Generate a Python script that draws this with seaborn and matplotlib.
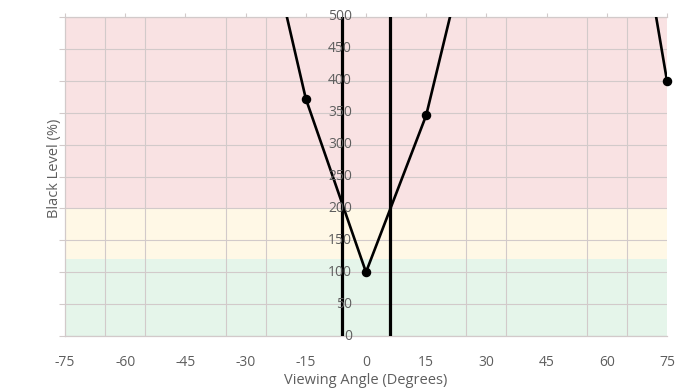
import numpy as np
import pandas as pd
import seaborn as sns
import matplotlib.pyplot as plt

# viewing angle measurements (points above 500 run off the top of the chart)
angles = [-75, -60, -45, -30, -15, 0, 15, 30, 45, 60, 75]
black_level = [1200, 1100, 1000, 780, 372, 100, 346, 736, 1000, 955, 400]

# the two vertical reference lines
ref_angles = [-6, 6]

# colour bands: (low, high, colour)
band_low = [0, 120, 200]
band_high = [120, 200, 500]
band_colors = ["#E5F5EA", "#FFF8E6", "#F9E2E3"]

x_ticks = [-75, -60, -45, -30, -15, 0, 15, 30, 45, 60, 75]
x_grid = [-75, -65, -55, -45, -35, -25, -15, 0, 15, 25, 35, 45, 55, 65, 75]
y_ticks = [0, 50, 100, 150, 200, 250, 300, 350, 400, 450, 500]

df = pd.DataFrame({"angle": angles, "level": black_level})

sns.set_theme(style="white")
plt.rcParams["font.family"] = ["Open Sans", "DejaVu Sans"]
plt.rcParams["axes.unicode_minus"] = False

grey_txt = "#5E5E5E"
grey_line = "#D2CACA"

fig = plt.figure(figsize=(6.92, 3.90), dpi=100)
ax = fig.add_axes([65 / 692, 54 / 390, 602 / 692, 319 / 390])

for lo, hi, col in zip(band_low, band_high, band_colors):
    ax.axhspan(lo, hi, color=col, zorder=0, lw=0)

sns.lineplot(data=df, x="angle", y="level", color="black", lw=1.9, ax=ax, zorder=4)
vis = df[df["level"] <= 500]
ax.scatter(vis["angle"], vis["level"], s=34, color="black", zorder=5, clip_on=False)

for ra in ref_angles:
    ax.axvline(ra, color="black", lw=2.3, zorder=3)

ax.set_xlim(-75, 75)
ax.set_ylim(0, 500)
ax.set_xticks(x_ticks)
ax.set_xticks(x_grid, minor=True)
ax.set_yticks(y_ticks)
ax.set_yticklabels([])

ax.grid(False)
ax.grid(True, which="minor", axis="x", color=grey_line, lw=0.8, zorder=1)
ax.grid(True, which="major", axis="y", color=grey_line, lw=0.8, zorder=1)

ax.tick_params(axis="x", which="major", top=True, bottom=False, direction="out",
               length=3, width=0.8, color=grey_line, labelsize=10,
               labelcolor=grey_txt, pad=11)
ax.tick_params(axis="x", which="minor", top=False, bottom=False)
ax.tick_params(axis="y", left=True, direction="out", length=4, width=0.8,
               color=grey_line)

# value labels sit next to the zero line
for yv in y_ticks:
    ax.annotate(str(yv), xy=(0, yv), xytext=(-10, 0), textcoords="offset points",
                ha="right", va="center", fontsize=10, color=grey_txt, zorder=6)

for side in ["left", "bottom", "top"]:
    ax.spines[side].set_color(grey_line)
    ax.spines[side].set_linewidth(0.9)
ax.spines["right"].set_visible(False)

ax.set_xlabel("Viewing Angle (Degrees)", fontsize=10.5, color=grey_txt, labelpad=2)
ax.set_ylabel("Black Level (%)", fontsize=10.5, color=grey_txt)
ax.yaxis.set_label_coords(-0.005, 0.525)

fig.savefig("out.png", dpi=100)
